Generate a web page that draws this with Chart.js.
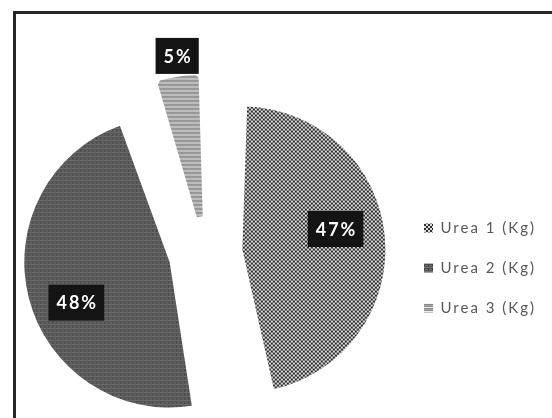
<!DOCTYPE html>
<html>
<head>
<meta charset="utf-8">
<script src="https://cdn.jsdelivr.net/npm/chart.js@4"></script>
<style>
  html, body { margin: 0; padding: 0; background: #fff; }
  #frame {
    position: absolute; left: 13px; top: 11px; width: 600px; height: 500px;
    border-top: 3px solid #262626; border-left: 3px solid #262626;
  }
  #chart { position: absolute; left: 0; top: 0; }
</style>
</head>
<body>
<div id="frame"></div>
<canvas id="chart" width="552" height="418"></canvas>
<script>
// 尿素の配分（円グラフ）
const categories = ["Urea 1 (Kg)", "Urea 2 (Kg)", "Urea 3 (Kg)"];
const shares = [47, 48, 5];
const shareLabels = ["47%", "48%", "5%"];

// ラベルの置き場所（半径比、角度補正）
const labelDist = [0.667, 0.70, 1.17];
const labelTurn = [-7, -9, 1];

function makePattern(w, h, paint) {
  const c = document.createElement("canvas");
  c.width = w; c.height = h;
  const g = c.getContext("2d");
  paint(g);
  return g.createPattern(c, "repeat");
}

// チェック柄
const checker = makePattern(4, 4, g => {
  g.fillStyle = "#dcdcdc"; g.fillRect(0, 0, 4, 4);
  g.fillStyle = "#2c2c2c"; g.fillRect(0, 0, 2, 2); g.fillRect(2, 2, 2, 2);
});
// 濃い横線
const darkLines = makePattern(4, 4, g => {
  const rows = ["#4a4a4a", "#6c6c6c", "#555555", "#727272"];
  rows.forEach((c, i) => { g.fillStyle = c; g.fillRect(0, i, 4, 1); });
  g.fillStyle = "#3a3a3a"; g.fillRect(0, 1, 1, 1);
});
// 薄い横線
const lightLines = makePattern(4, 4, g => {
  const rows = ["#888888", "#a4a4a4", "#8e8e8e", "#eeeeee"];
  rows.forEach((c, i) => { g.fillStyle = c; g.fillRect(0, i, 4, 1); });
});

const spacingPlugin = {
  id: "spacing",
  beforeLayout(chart) { chart.ctx.letterSpacing = "2px"; },
  beforeDraw(chart) { chart.ctx.letterSpacing = "2px"; }
};

const boxLabels = {
  id: "boxLabels",
  afterDatasetsDraw(chart) {
    const ctx = chart.ctx;
    const arcs = chart.getDatasetMeta(0).data;
    ctx.save();
    ctx.font = "bold 18px Lato";
    ctx.letterSpacing = "2px";
    ctx.textAlign = "center";
    ctx.textBaseline = "middle";
    arcs.forEach((arc, i) => {
      const p = arc.getProps(["x", "y", "startAngle", "endAngle", "outerRadius"], true);
      const mid = (p.startAngle + p.endAngle) / 2;
      const shift = arc.options.offset / 4;
      const cx = p.x + Math.cos(mid) * shift;
      const cy = p.y + Math.sin(mid) * shift;
      const circ = p.endAngle - p.startAngle;
      const rEff = p.outerRadius + shift * (1 - Math.sin(Math.min(Math.PI, circ)));
      const a = mid + labelTurn[i] * Math.PI / 180;
      const r = rEff * labelDist[i];
      const lx = cx + Math.cos(a) * r;
      const ly = cy + Math.sin(a) * r;
      const w = ctx.measureText(shareLabels[i]).width + 14;
      const h = 36;
      ctx.fillStyle = "#141414";
      ctx.fillRect(lx - w / 2, ly - h / 2, w, h);
      ctx.fillStyle = "#ffffff";
      ctx.fillText(shareLabels[i], lx + 1, ly + 1);
    });
    ctx.restore();
  }
};

Chart.defaults.font.family = "Lato";

const pieLegend = (Chart.overrides.pie || Chart.overrides.doughnut).plugins.legend.labels;

new Chart(document.getElementById("chart"), {
  type: "pie",
  data: {
    labels: categories,
    datasets: [{
      data: shares,
      backgroundColor: [checker, darkLines, lightLines],
      borderColor: [checker, darkLines, lightLines],
      borderWidth: [0, 0, 6],
      borderJoinStyle: "bevel",
      offset: 148,
    }],
  },
  options: {
    responsive: false,
    animation: false,
    radius: 113,
    layout: { padding: { left: 12, right: 6, top: 96, bottom: 8 } },
    plugins: {
      tooltip: { enabled: false },
      legend: {
        position: "right",
        title: { display: true, text: " ", font: { size: 10 }, padding: { top: 0, bottom: 18 } },
        labels: {
          boxWidth: 9,
          boxHeight: 9,
          padding: 25,
          color: "#595959",
          font: { size: 15 },
          generateLabels(chart) {
            const items = pieLegend.generateLabels(chart);
            items.forEach(it => { it.lineWidth = 0; });
            return items;
          },
        },
      },
    },
  },
  plugins: [spacingPlugin, boxLabels],
});
</script>
</body>
</html>
